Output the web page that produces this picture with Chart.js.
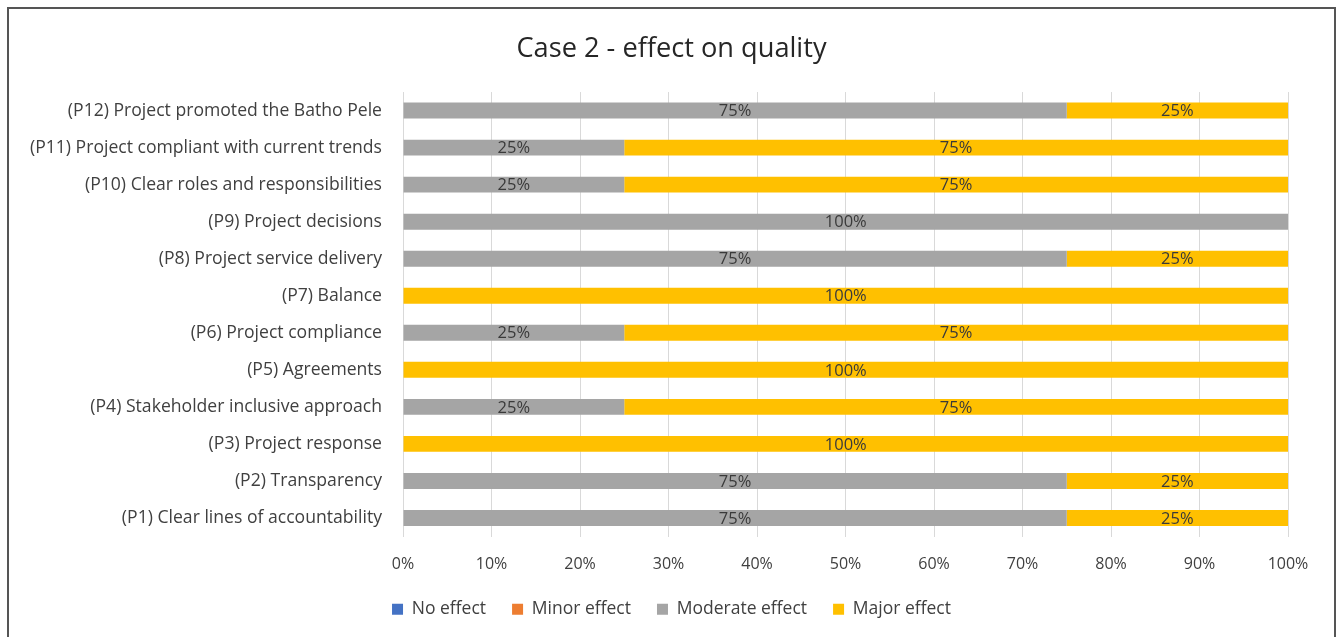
<!DOCTYPE html>
<html>
<head>
<meta charset="utf-8">
<script src="https://cdn.jsdelivr.net/npm/chart.js@4"></script>
<style>
  html, body { margin: 0; padding: 0; background: #fff; }
  #wrap { width: 1343px; height: 637px; position: relative; }
</style>
</head>
<body>
<div id="wrap"><canvas id="c" width="1343" height="637"></canvas></div>
<script>
// Practices, listed top to bottom
const categories = [
  "(P12) Project promoted the Batho Pele",
  "(P11) Project compliant with current trends",
  "(P10) Clear roles and responsibilities",
  "(P9) Project decisions",
  "(P8) Project service delivery",
  "(P7) Balance",
  "(P6) Project compliance",
  "(P5) Agreements",
  "(P4) Stakeholder inclusive approach",
  "(P3) Project response",
  "(P2) Transparency",
  "(P1) Clear lines of accountability"
];
const seriesNames = ["No effect", "Minor effect", "Moderate effect", "Major effect"];
const noEffect       = [0, 0, 0, 0, 0, 0, 0, 0, 0, 0, 0, 0];
const minorEffect    = [0, 0, 0, 0, 0, 0, 0, 0, 0, 0, 0, 0];
const moderateEffect = [75, 25, 25, 100, 75, 0, 25, 0, 25, 0, 75, 75];
const majorEffect    = [25, 75, 75, 0, 25, 100, 75, 100, 75, 100, 25, 25];
const seriesColors = ["#4472C4", "#ED7D31", "#A5A5A5", "#FFC000"];
const xTicks = [0, 10, 20, 30, 40, 50, 60, 70, 80, 90, 100];

const FONT = "'Open Sans', sans-serif";
const TEXT = "#404040";

// Outer frame around the whole chart
const framePlugin = {
  id: "frame",
  beforeDraw(chart) {
    const ctx = chart.ctx;
    ctx.save();
    ctx.fillStyle = "#fff";
    ctx.fillRect(0, 0, chart.width, chart.height);
    ctx.strokeStyle = "#555";
    ctx.lineWidth = 2;
    ctx.strokeRect(8, 8, 1327, 660);
    ctx.restore();
  }
};

// Let the category labels use the free margin left of the y axis box
const wideLabels = {
  id: "wideLabels",
  afterLayout(chart) {
    const y = chart.scales.y;
    y.left = 0;
    y.width = y.right;
  }
};

// Percentage labels centred on each non-empty segment
const valueLabels = {
  id: "valueLabels",
  afterDatasetsDraw(chart) {
    const ctx = chart.ctx;
    ctx.save();
    ctx.font = "16.5px " + FONT;
    ctx.fillStyle = "#3a3a3a";
    ctx.textAlign = "center";
    ctx.textBaseline = "middle";
    chart.data.datasets.forEach((ds, di) => {
      const meta = chart.getDatasetMeta(di);
      if (meta.hidden) return;
      meta.data.forEach((bar, i) => {
        const v = ds.data[i];
        if (!v) return;
        const p = bar.getProps(["x", "y", "base"], true);
        ctx.fillText(v + "%", (p.x + p.base) / 2, p.y + 1);
      });
    });
    ctx.restore();
  }
};

const seriesData = [noEffect, minorEffect, moderateEffect, majorEffect];

new Chart(document.getElementById("c"), {
  type: "bar",
  data: {
    labels: categories,
    datasets: seriesNames.map((name, k) => ({
      label: name,
      data: seriesData[k],
      backgroundColor: seriesColors[k],
      borderWidth: 0,
      barPercentage: 0.43,
      categoryPercentage: 1.0
    }))
  },
  options: {
    indexAxis: "y",
    responsive: false,
    animation: false,
    devicePixelRatio: 1,
    layout: { padding: { top: 18, right: 55, bottom: 9, left: 55 } },
    scales: {
      x: {
        stacked: true,
        min: 0,
        max: 100,
        afterBuildTicks(scale) { scale.ticks = xTicks.map(v => ({ value: v })); },
        afterFit(scale) { scale.height = 38; },
        grid: { color: "#D9D9D9", drawTicks: false, lineWidth: 1 },
        border: { display: false },
        ticks: {
          padding: 18,
          color: TEXT,
          font: { family: FONT, size: 16 },
          callback: v => v + "%"
        }
      },
      y: {
        stacked: true,
        afterFit(scale) { scale.width = 348; },
        grid: { display: false, drawTicks: false },
        border: { display: false },
        ticks: {
          padding: 21,
          color: TEXT,
          font: { family: FONT, size: 17.6 }
        }
      }
    },
    plugins: {
      title: {
        display: true,
        text: "Case 2 - effect on quality",
        color: "#262626",
        font: { family: FONT, size: 27.2, weight: "normal" },
        padding: { top: 14.7, bottom: 26.7 }
      },
      legend: {
        position: "bottom",
        labels: {
          color: TEXT,
          font: { family: FONT, size: 17.5 },
          boxWidth: 11,
          boxHeight: 11,
          padding: 26
        }
      },
      tooltip: { enabled: false }
    }
  },
  plugins: [framePlugin, wideLabels, valueLabels]
});
</script>
</body>
</html>
